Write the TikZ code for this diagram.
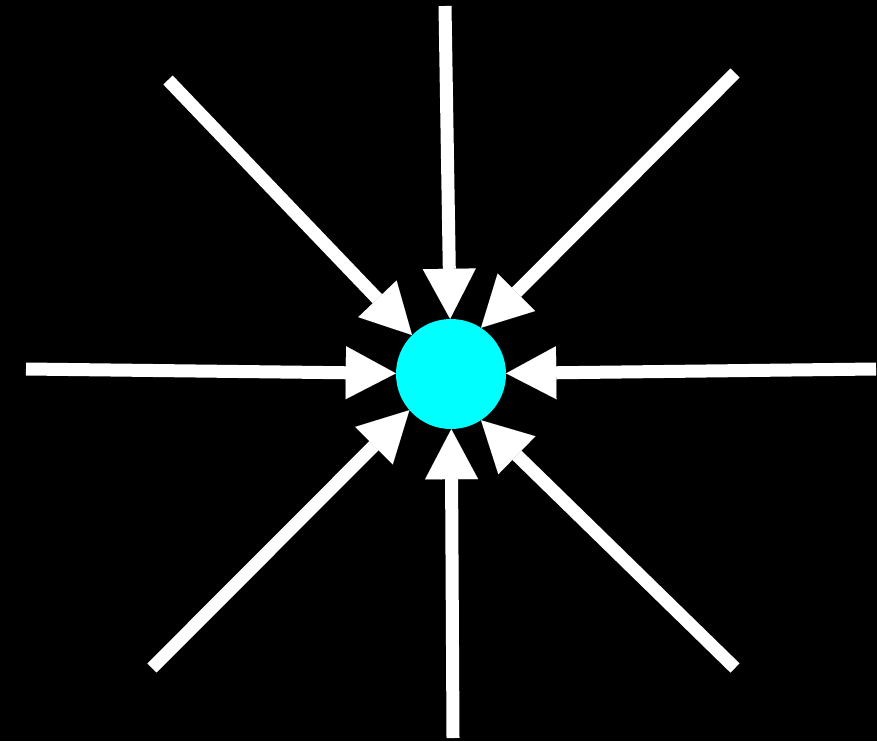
\documentclass[tikz,border=0pt]{standalone}
\usetikzlibrary{arrows.meta}
\definecolor{cyanfill}{RGB}{0,255,255}
\begin{document}
\begin{tikzpicture}[x=1pt,y=-1pt,
  ray/.style={draw=white,line width=13pt,-{Triangle[length=50pt,width=53pt,line width=0.01pt]}},
  hub/.style={circle,fill=cyanfill,inner sep=0pt,minimum size=110pt}]
\fill[black] (0,0) rectangle (877,741);
\useasboundingbox (0,0) rectangle (877,741);
\node[hub] (c) at (451,374) {};
\coordinate (n) at (445,6);
\coordinate (ne) at (735,73);
\coordinate (e) at (876,369);
\coordinate (se) at (735,668);
\coordinate (s) at (453,738);
\coordinate (sw) at (152,668);
\coordinate (w) at (26,369);
\coordinate (nw) at (168,80);
\foreach \p in {n,e,s,w}{\draw[ray] (\p) -- (c);}
\draw[ray] (ne) -- (c.57);
\draw[ray] (nw) -- (c.135);
\draw[ray] (sw) -- (c.221);
\draw[ray] (se) -- (c.303);
\end{tikzpicture}
\end{document}
